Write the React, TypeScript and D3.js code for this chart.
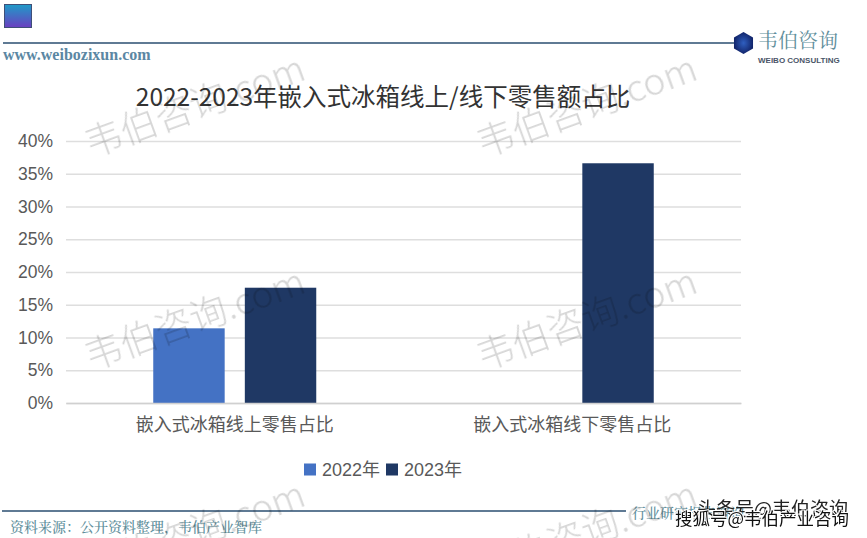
import { useEffect, useRef } from 'react';
import * as d3 from 'd3';

const categories = ['嵌入式冰箱线上零售占比', '嵌入式冰箱线下零售占比'];
const years = ['2022年', '2023年'];
const values2022: (number | null)[] = [11.4, null];
const values2023: (number | null)[] = [17.6, 36.6];
const yTicks = [0, 5, 10, 15, 20, 25, 30, 35, 40];
const seriesColors = ['#4472c4', '#1f3864'];

const titleText = '2022-2023年嵌入式冰箱线上/线下零售额占比';
const siteText = 'www.weibozixun.com';
const sourceText = '资料来源：公开资料整理，韦伯产业智库';
const footerRight = '行业研究报告咨询';
const overlayBack = '头条号@韦伯咨询';
const overlayFront = '搜狐号@韦伯产业咨询';
const watermarkText = '韦伯咨询.com';

const CJK = '"Noto Sans CJK SC", sans-serif';
const LATIN_CJK = '"Liberation Sans", "Noto Sans CJK SC", sans-serif';
const SERIF_CJK = '"Noto Serif CJK SC", "Liberation Serif", "Noto Sans CJK SC", serif';

export default function App() {
  const svgRef = useRef<SVGSVGElement>(null);

  useEffect(() => {
    if (!svgRef.current) return;
    const root = d3.select(svgRef.current);
    root.selectAll('*').remove();

    const width = 867;
    const height = 538;
    const margin = { top: 141, right: 126, bottom: 135, left: 66 };
    const innerW = width - margin.left - margin.right;
    const innerH = height - margin.top - margin.bottom;

    root.attr('width', width).attr('height', height);
    root.append('rect').attr('width', width).attr('height', height).attr('fill', '#ffffff');

    const defs = root.append('defs');
    const grad = defs.append('linearGradient').attr('id', 'badge').attr('x1', 0).attr('y1', 0).attr('x2', 0).attr('y2', 1);
    grad.append('stop').attr('offset', '0%').attr('stop-color', '#1f9bc8');
    grad.append('stop').attr('offset', '100%').attr('stop-color', '#6a3fc0');
    const hexGrad = defs.append('radialGradient').attr('id', 'hexfill');
    hexGrad.append('stop').attr('offset', '0%').attr('stop-color', '#2f5fc0');
    hexGrad.append('stop').attr('offset', '100%').attr('stop-color', '#12256b');

    // header
    root.append('rect').attr('x', 4.5).attr('y', 4.5).attr('width', 27).attr('height', 23)
      .attr('fill', 'url(#badge)').attr('stroke', '#3f4f78').attr('stroke-width', 1);
    root.append('line').attr('x1', 3).attr('x2', 734).attr('y1', 43).attr('y2', 43)
      .attr('stroke', '#5f7a94').attr('stroke-width', 2);
    root.append('text').attr('x', 3).attr('y', 60).text(siteText)
      .attr('font-family', '"Liberation Serif", serif').attr('font-weight', 700).attr('font-size', 16).attr('fill', '#5b87a3');

    // logo
    const hex = d3.lineRadial<number>().angle(d => d * Math.PI / 3).radius(11).curve(d3.curveLinearClosed);
    root.append('path').attr('transform', 'translate(743.5,43)').attr('d', hex([0, 1, 2, 3, 4, 5]))
      .attr('fill', 'url(#hexfill)');
    root.append('text').attr('x', 758).attr('y', 48).text('韦伯咨询')
      .attr('font-family', SERIF_CJK).attr('font-size', 20).attr('fill', '#5f8f9c');
    root.append('text').attr('x', 758).attr('y', 63).text('WEIBO CONSULTING')
      .attr('font-family', '"Liberation Sans", sans-serif').attr('font-weight', 700).attr('font-size', 8).attr('fill', '#4a5568');

    // title
    root.append('text').attr('x', 383).attr('y', 106).attr('text-anchor', 'middle').text(titleText)
      .attr('font-family', CJK).attr('font-size', 24.5).attr('fill', '#333333');

    const x0 = d3.scaleBand<string>().domain(categories).range([0, innerW]);
    const x1 = d3.scaleBand<string>().domain(years)
      .range([x0.bandwidth() / 2 - 81.5, x0.bandwidth() / 2 + 81.5]).paddingInner(0.22);
    const y = d3.scaleLinear().domain([0, 40]).range([innerH, 0]);

    const g = root.append('g').attr('transform', `translate(${margin.left},${margin.top})`);

    // gridlines and value axis
    const yAxis = g.append('g').call(
      d3.axisLeft(y).tickValues(yTicks).tickSize(-innerW).tickPadding(13).tickFormat(d => `${d}%`)
    );
    yAxis.select('.domain').remove();
    yAxis.selectAll('line').attr('stroke', '#dedede').attr('stroke-width', 1.5);
    yAxis.selectAll('text').attr('font-family', '"Liberation Sans", sans-serif').attr('font-size', 17.5).attr('fill', '#595959');

    // bars
    const series = [values2022, values2023];
    series.forEach((vals, si) => {
      g.selectAll(`.bar-${si}`)
        .data(categories.map((c, i) => ({ c, v: vals[i] })).filter(d => d.v !== null))
        .enter()
        .append('rect')
        .attr('class', `bar-${si}`)
        .attr('x', d => (x0(d.c) as number) + (x1(years[si]) as number))
        .attr('y', d => y(d.v as number))
        .attr('width', x1.bandwidth())
        .attr('height', d => innerH - y(d.v as number))
        .attr('fill', seriesColors[si]);
    });

    // category axis
    const xAxis = g.append('g').attr('transform', `translate(0,${innerH})`)
      .call(d3.axisBottom(x0).tickSize(0).tickPadding(15));
    xAxis.select('.domain').attr('stroke', '#d0d0d0').attr('stroke-width', 1.5);
    xAxis.selectAll('text').attr('font-family', CJK).attr('font-size', 18).attr('fill', '#595959');

    // legend
    const legendX = d3.scaleOrdinal<string, number>().domain(years).range([304, 386]);
    years.forEach((yr, i) => {
      root.append('rect').attr('x', legendX(yr)).attr('y', 463.5).attr('width', 12).attr('height', 12).attr('fill', seriesColors[i]);
      root.append('text').attr('x', legendX(yr) + 18).attr('y', 476).text(yr)
        .attr('font-family', LATIN_CJK).attr('font-size', 18).attr('fill', '#595959');
    });

    // footer
    root.append('line').attr('x1', 2).attr('x2', 626).attr('y1', 511).attr('y2', 511)
      .attr('stroke', '#5f7a94').attr('stroke-width', 2);
    root.append('text').attr('x', 10).attr('y', 532).text(sourceText)
      .attr('font-family', SERIF_CJK).attr('font-size', 14).attr('font-weight', 500).attr('fill', '#5f8f9c');
    root.append('text').attr('x', 632).attr('y', 518).text(footerRight)
      .attr('font-family', SERIF_CJK).attr('font-size', 14).attr('font-weight', 500).attr('fill', '#5f8f9c');

    // watermarks multiply over everything, so they barely show on the dark bars
    const marks = [[196, 109], [588, 109], [196, 322], [588, 322], [196, 535], [588, 535]];
    root.append('g').style('mix-blend-mode', 'multiply').selectAll('text').data(marks).enter().append('text')
      .attr('transform', d => `translate(${d[0]},${d[1]}) rotate(-20)`)
      .attr('text-anchor', 'middle').attr('dominant-baseline', 'middle').text(watermarkText)
      .attr('font-family', CJK).attr('font-weight', 300).attr('font-size', 37).attr('fill', '#d6d6d6');

    // repost stamps laid over the footer
    root.append('text').attr('x', 697).attr('y', 516).text(overlayBack)
      .attr('font-family', CJK).attr('font-size', 19).attr('fill', '#222222');
    root.append('text').attr('x', 675).attr('y', 525).text(overlayFront)
      .attr('font-family', CJK).attr('font-size', 17.5).attr('fill', '#111111')
      .attr('stroke', '#ffffff').attr('stroke-width', 2).attr('paint-order', 'stroke');
  }, []);

  return <svg ref={svgRef} style={{ position: 'absolute', left: 0, top: 0, display: 'block' }} />;
}
